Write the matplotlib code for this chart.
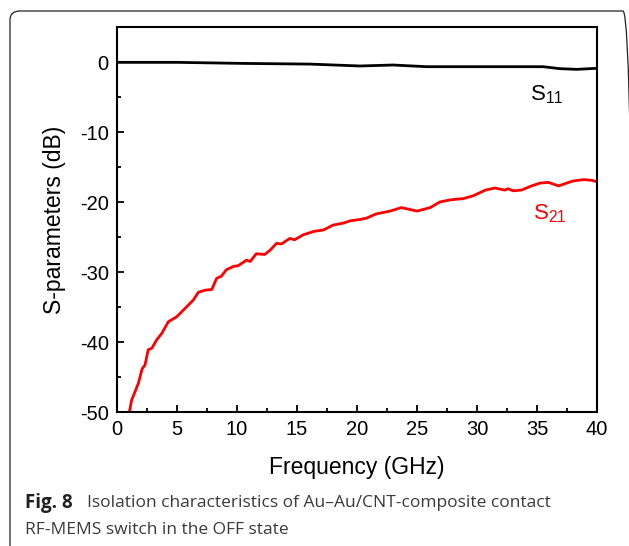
import matplotlib
matplotlib.use("Agg")
import matplotlib.pyplot as plt
from matplotlib.patches import FancyBboxPatch
from matplotlib.ticker import MultipleLocator

# ── data ────────────────────────────────────────────────────
s11_freq = [0.0, 5.0, 10.5, 16.1, 20.25, 23.0, 25.8, 30.0, 34.1, 35.5, 36.9, 38.3, 40.0]
s11_db   = [-0.05, -0.05, -0.2, -0.3, -0.57, -0.43, -0.67, -0.67, -0.67, -0.67, -0.95, -1.05, -0.9]

s21_freq = [1.03, 1.22, 1.78, 2.1, 2.33, 2.6, 2.9, 3.3, 3.72, 4.28, 4.97, 5.67, 6.36,
            6.78, 7.33, 7.9, 8.3, 8.7, 9.1, 9.7, 10.1, 10.8, 11.1, 11.6, 12.3, 12.75,
            13.3, 13.7, 14.4, 14.8, 15.5, 16.4, 17.2, 18.0, 18.9, 19.4, 20.25, 20.8,
            21.6, 22.75, 23.7, 25.0, 26.1, 26.9, 27.75, 28.9, 29.7, 30.7, 31.5, 32.3,
            32.6, 33.0, 33.7, 34.55, 35.25, 35.95, 36.8, 37.3, 38.0, 38.9, 39.55, 40.0]
s21_db   = [-50.0, -48.3, -45.9, -43.8, -43.3, -41.1, -40.9, -39.7, -38.8, -37.1, -36.4,
            -35.2, -34.0, -32.9, -32.6, -32.5, -30.9, -30.6, -29.7, -29.2, -29.1, -28.3,
            -28.5, -27.4, -27.5, -26.9, -25.9, -26.0, -25.2, -25.4, -24.7, -24.2, -24.0,
            -23.3, -23.0, -22.7, -22.5, -22.3, -21.7, -21.3, -20.8, -21.3, -20.8, -20.0,
            -19.7, -19.5, -19.1, -18.3, -18.0, -18.3, -18.1, -18.4, -18.3, -17.7, -17.3,
            -17.2, -17.7, -17.4, -17.0, -16.8, -16.9, -17.1]

C_S11 = "black"
C_S21 = "#ff0000"

plt.rcParams["font.family"] = ["Liberation Sans", "DejaVu Sans"]
plt.rcParams["axes.unicode_minus"] = False
plt.rcParams["mathtext.fontset"] = "custom"
plt.rcParams["mathtext.rm"] = "Liberation Sans"
plt.rcParams["mathtext.it"] = "Liberation Sans"

fig = plt.figure(figsize=(6.29, 5.46), dpi=100)

# rounded frame (top / left visible, right corner just past the edge)
frame = FancyBboxPatch((10 / 629, -0.1), 623 / 629, 1.1 - 11 / 546,
                       boxstyle="round,pad=0,rounding_size=0.016",
                       transform=fig.transFigure, fill=False,
                       ec="#222222", lw=0.9, clip_on=False)
fig.patches.append(frame)

ax = fig.add_axes([117 / 629, 1 - 412 / 546, 480 / 629, 385 / 546])

ax.plot(s11_freq, s11_db, color=C_S11, lw=2.0)
ax.plot(s21_freq, s21_db, color=C_S21, lw=2.0)

ax.set_xlim(0, 40)
ax.set_ylim(-50, 5)
ax.xaxis.set_major_locator(MultipleLocator(5))
ax.xaxis.set_minor_locator(MultipleLocator(2.5))
ax.yaxis.set_major_locator(MultipleLocator(10))
ax.yaxis.set_minor_locator(MultipleLocator(5))
ax.tick_params(which="both", direction="in", top=False, right=False,
               width=1.3, labelsize=14.5)
ax.tick_params(which="major", length=5, pad=6)
ax.tick_params(which="minor", length=3)
for sp in ax.spines.values():
    sp.set_linewidth(1.5)

ax.set_xlabel("Frequency (GHz)", fontsize=16.5, labelpad=12)
ax.set_ylabel("S-parameters (dB)", fontsize=16.5, labelpad=10)

ax.text(34.4, -4.7, r"S$_{11}$", color=C_S11, fontsize=16, va="center")
ax.text(34.7, -21.7, r"S$_{21}$", color=C_S21, fontsize=16, va="center")

# caption
cap_font = ["Open Sans", "DejaVu Sans"]
fig.text(25 / 629, 1 - 503 / 546, "Fig. 8", fontsize=13.5, fontweight="bold",
         family=cap_font, color="#231f20", va="center")
fig.text(87 / 629, 1 - 503 / 546,
         "Isolation characteristics of Au\u2013Au/CNT-composite contact",
         fontsize=12.5, family=cap_font, color="#3a3a3a", va="center")
fig.text(25 / 629, 1 - 530 / 546, "RF-MEMS switch in the OFF state",
         fontsize=12.5, family=cap_font, color="#3a3a3a", va="center")

fig.savefig("out.png", dpi=100)
